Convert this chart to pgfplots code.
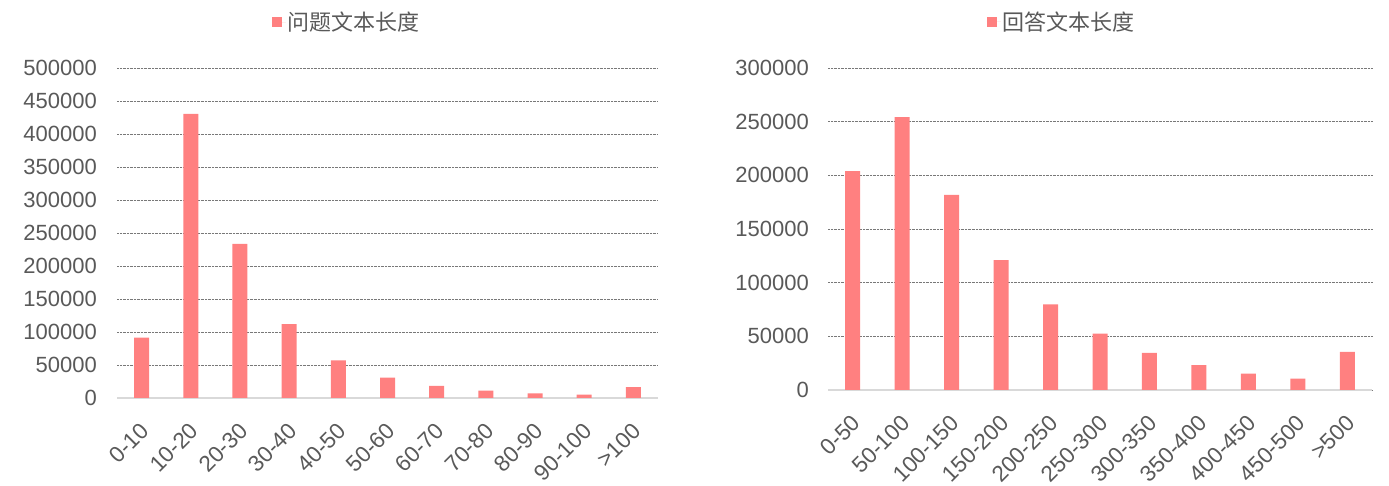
\documentclass[border=0pt]{standalone}
\usepackage{fontspec}
\setmainfont{Liberation Sans}
\newfontfamily\cjk{Noto Sans CJK SC}
\usepackage{pgfplots}
\pgfplotsset{compat=1.18}
\definecolor{barpink}{RGB}{255,128,128}
\definecolor{txtgray}{RGB}{89,89,89}
\definecolor{gridgray}{RGB}{120,120,120}
\definecolor{axgray}{RGB}{217,217,217}
\pgfplotsset{
  mystyle/.style={
    scale only axis,
    ybar,
    bar width=15bp,
    ymin=0,
    xmin=-0.5, xmax=10.5,
    xtick=data,
    axis x line*=bottom,
    axis y line*=left,
    y axis line style={draw=none},
    x axis line style={draw=axgray, line width=1.5bp},
    major tick length=0pt,
    ymajorgrids,
    major grid style={densely dotted, draw=gridgray, line width=0.6bp},
    scaled y ticks=false,
    yticklabel={\pgfmathprintnumber[fixed,precision=0,set thousands separator={},assume math mode=true]{\tick}},
    ticklabel style={text=txtgray},
    yticklabel style={font=\fontsize{22bp}{26bp}\selectfont, inner sep=0pt, xshift=-20bp},
    xticklabel style={font=\fontsize{22.5bp}{27bp}\selectfont, rotate=45, anchor=north east, inner sep=0pt, yshift=-15bp, xshift=-18bp},
    legend style={draw=none, fill=none, font=\cjk\fontsize{22bp}{26bp}\selectfont, text=txtgray, anchor=center, legend cell align=left},
    legend image code/.code={\path (0bp,0bp) -- (14bp,0bp); \fill[barpink] (0bp,-5bp) rectangle (10bp,5bp);},
  }
}
\begin{document}
\begin{tikzpicture}[x=1bp,y=1bp]
\useasboundingbox (0,0) rectangle (1389,486);
\begin{axis}[mystyle,
  at={(117bp,88bp)}, anchor=south west,
  width=541bp, height=330bp,
  ymax=500000, ytick distance=50000,
  xticklabels={0-10,10-20,20-30,30-40,40-50,50-60,60-70,70-80,80-90,90-100,>100},
  legend style={at={(0.425,1.139)}},
]
\addplot[fill=barpink, draw=none] coordinates {(0,91500) (1,430500) (2,233500) (3,112000) (4,57000) (5,31000) (6,18400) (7,11200) (8,7100) (9,5100) (10,16300)};
\addlegendentry{问题文本长度}
\end{axis}
\begin{axis}[mystyle,
  at={(828bp,96bp)}, anchor=south west,
  width=544bp, height=322bp,
  ymax=300000, ytick distance=50000,
  yticklabel style={xshift=1bp},
  xticklabels={0-50,50-100,100-150,150-200,200-250,250-300,300-350,350-400,400-450,450-500,>500},
  legend style={at={(0.43,1.143)}},
]
\addplot[fill=barpink, draw=none] coordinates {(0,204000) (1,254300) (2,181700) (3,121100) (4,79700) (5,52500) (6,34700) (7,23100) (8,15300) (9,10600) (10,35600)};
\addlegendentry{回答文本长度}
\end{axis}
\end{tikzpicture}
\end{document}
